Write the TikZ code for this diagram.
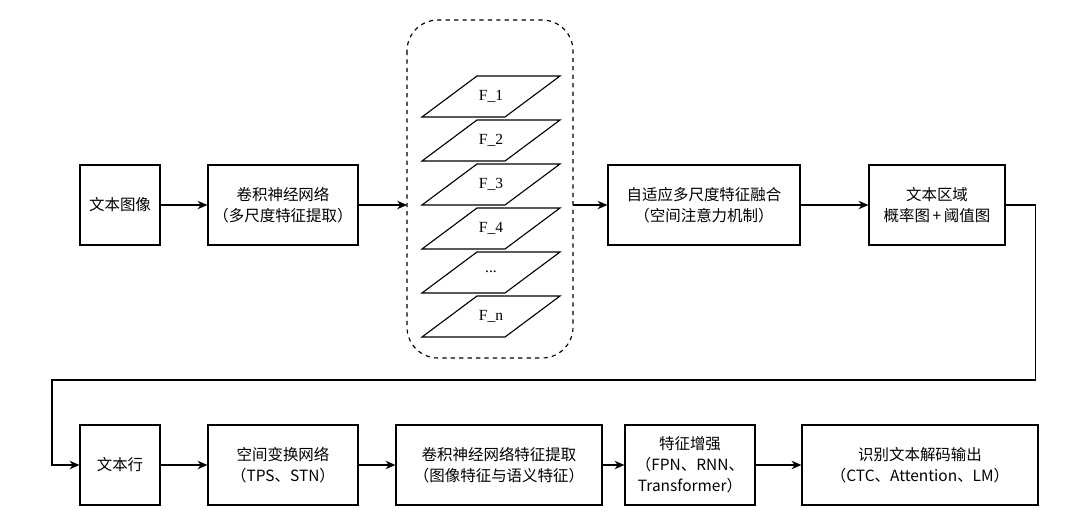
\documentclass[tikz,border=0pt]{standalone}
\usepackage{fontspec}
\setmainfont{Liberation Serif}
\newfontfamily\cjk{Noto Sans CJK SC}
\usetikzlibrary{arrows.meta}
\begin{document}
\begin{tikzpicture}[x=0.025cm,y=-0.025cm,
    box/.style={draw,thick,minimum height=2cm,align=center,font=\cjk\fontsize{11}{15}\selectfont},
    arr/.style={thick,-{Stealth[length=7pt,width=6pt]}}]
    \useasboundingbox (0,0) rectangle (1080,518);
    % 第一行
    \node[box,minimum width=2cm] (img) at (120,205) {文本图像};
    \node[box,minimum width=3.75cm] (cnn) at (283,205) {卷积神经网络\\（多尺度特征提取）};
    \draw[thick,dashed,rounded corners=22] (407,20) rectangle (573,358);
    \coordinate (fin) at (407,205);
    \coordinate (fout) at (573,205);
    % 特征层
    \foreach \i/\t in {0/F\_1,1/F\_2,2/F\_3,3/F\_4,4/{...},5/F\_n}{
        \draw[thick] (422,117+44*\i) -- (477,76+44*\i) -- (560,76+44*\i) -- (505,117+44*\i) -- cycle;
        \node[font=\fontsize{11}{13}\selectfont] (f\i) at (491,96+44*\i) {\t};
    }
    \node[box,minimum width=4.8cm] (fuse) at (704,205) {自适应多尺度特征融合\\（空间注意力机制）};
    \node[box,minimum width=3.4cm] (prob) at (937,205) {文本区域\\概率图\,+\,阈值图};
    % 第二行
    \node[box,minimum width=2cm] (line) at (120,465) {文本行};
    \node[box,minimum width=3.75cm] (stn) at (283,465) {空间变换网络\\（TPS、STN）};
    \node[box,minimum width=5.15cm] (feat) at (499,465) {卷积神经网络特征提取\\（图像特征与语义特征）};
    \node[box,minimum width=3.25cm] (enh) at (690,465) {特征增强\\（FPN、RNN、\\Transformer）};
    \node[box,minimum width=5.9cm] (dec) at (920,465) {识别文本解码输出\\（CTC、Attention、LM）};
    % 连线
    \draw[arr] (img) -- (cnn);
    \draw[arr] (cnn) -- (fin);
    \draw[arr] (fout) -- (fuse);
    \draw[arr] (fuse) -- (prob);
    \draw[arr] (prob.east) -- ++(30,0) |- (52,380) |- (line.west);
    \draw[arr] (line) -- (stn);
    \draw[arr] (stn) -- (feat);
    \draw[arr] (feat) -- (enh);
    \draw[arr] (enh) -- (dec);
\end{tikzpicture}
\end{document}
